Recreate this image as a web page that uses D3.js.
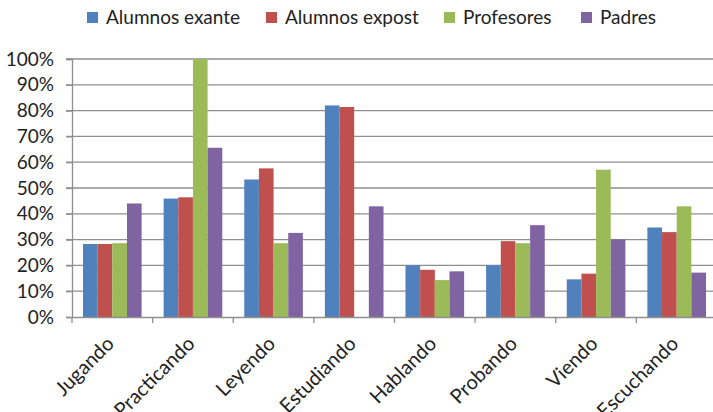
<!DOCTYPE html>
<html lang="es">
<head>
    <meta charset="UTF-8">
    <title>Actividades</title>
    <script src="https://d3js.org/d3.v7.min.js"></script>
    <style>
        body { margin: 0; background: #fff; }
        text { font-family: Lato, "Open Sans", sans-serif; fill: #222; }
    </style>
</head>
<body>
    <div id="chart"></div>

    <script>
        // Chart data
        const categories = ["Jugando", "Practicando", "Leyendo", "Estudiando", "Hablando", "Probando", "Viendo", "Escuchando"];
        const seriesNames = ["Alumnos exante", "Alumnos expost", "Profesores", "Padres"];
        const alumnosExante = [28.3, 45.9, 53.3, 82.0, 20.1, 20.1, 14.6, 34.7];
        const alumnosExpost = [28.3, 46.4, 57.6, 81.4, 18.3, 29.4, 16.8, 32.9];
        const profesores = [28.6, 100, 28.6, 0, 14.3, 28.6, 57.1, 42.9];
        const padres = [44.0, 65.6, 32.6, 42.9, 17.7, 35.6, 30.1, 17.2];
        const yTicks = [0, 10, 20, 30, 40, 50, 60, 70, 80, 90, 100];
        const colors = ["#4f81bd", "#c0504d", "#9bbb59", "#8064a2"];

        const allSeries = [alumnosExante, alumnosExpost, profesores, padres];
        const table = categories.map((c, i) => ({
            cat: c,
            values: allSeries.map((s, j) => ({ name: seriesNames[j], v: s[i] }))
        }));

        const W = 713, H = 412;
        const margin = {top: 59, right: -4, bottom: 95, left: 72};
        const width = W - margin.left - margin.right;
        const height = H - margin.top - margin.bottom;

        const svg = d3.select("#chart")
            .append("svg")
            .attr("width", W)
            .attr("height", H);

        const g = svg.append("g")
            .attr("transform", `translate(${margin.left},${margin.top})`);

        // category bands, bars use Excel style gap (150% of a bar)
        const x0 = d3.scaleBand().domain(categories).range([0, width]);
        const bw = x0.bandwidth() / 5.5;
        const xs = d3.scaleBand()
            .domain(seriesNames)
            .range([0, bw * 4]);

        const y = d3.scaleLinear()
            .domain([0, 100])
            .range([height, 0]);

        // gridlines
        g.append("g")
            .selectAll("line")
            .data(yTicks.slice(1))
            .enter()
            .append("line")
            .attr("x1", -6)
            .attr("x2", width)
            .attr("y1", d => y(d))
            .attr("y2", d => y(d))
            .attr("stroke", "#8f8f8f")
            .attr("stroke-width", 1.3);

        // bars
        const groups = g.selectAll(".grp")
            .data(table)
            .enter()
            .append("g")
            .attr("class", "grp")
            .attr("transform", d => `translate(${x0(d.cat) + bw * 0.75},0)`);

        groups.selectAll("rect")
            .data(d => d.values)
            .enter()
            .append("rect")
            .attr("x", d => xs(d.name))
            .attr("width", xs.bandwidth())
            .attr("y", d => y(d.v))
            .attr("height", d => height - y(d.v))
            .attr("fill", (d, i) => colors[i]);

        // y axis
        const yAxis = g.append("g")
            .call(d3.axisLeft(y)
                .tickValues(yTicks)
                .tickSize(6)
                .tickFormat(d => d + "%"));
        yAxis.select(".domain").attr("stroke", "#8f8f8f").attr("stroke-width", 1.3);
        yAxis.selectAll(".tick line").attr("stroke", "#8f8f8f").attr("stroke-width", 1.3);
        yAxis.selectAll(".tick text")
            .attr("x", -18)
            .style("font-size", "19px")
            .attr("fill", "#222");

        // x axis
        const xAxis = g.append("g")
            .attr("transform", `translate(0,${height})`)
            .call(d3.axisBottom(x0).tickSize(0).tickSizeOuter(0));
        xAxis.select(".domain").attr("stroke", "#8f8f8f").attr("stroke-width", 1.3);
        xAxis.selectAll(".tick text")
            .style("font-size", "20px")
            .attr("fill", "#222")
            .attr("text-anchor", "end")
            .attr("x", 0)
            .attr("y", 0)
            .attr("dy", 0)
            .attr("transform", "translate(3,28) rotate(-45)");

        // category boundary ticks
        g.append("g")
            .selectAll("line")
            .data(categories)
            .enter()
            .append("line")
            .attr("x1", d => x0(d))
            .attr("x2", d => x0(d))
            .attr("y1", height)
            .attr("y2", height + 6)
            .attr("stroke", "#8f8f8f")
            .attr("stroke-width", 1.3);

        // legend
        const legendX = [87, 266, 444, 581];
        const legend = svg.append("g");
        const item = legend.selectAll("g")
            .data(seriesNames)
            .enter()
            .append("g")
            .attr("transform", (d, i) => `translate(${legendX[i]},12)`);
        item.append("rect")
            .attr("width", 11)
            .attr("height", 11)
            .attr("fill", (d, i) => colors[i]);
        item.append("text")
            .attr("x", 19)
            .attr("y", 12)
            .style("font-size", "19px")
            .text(d => d);
    </script>
</body>
</html>
